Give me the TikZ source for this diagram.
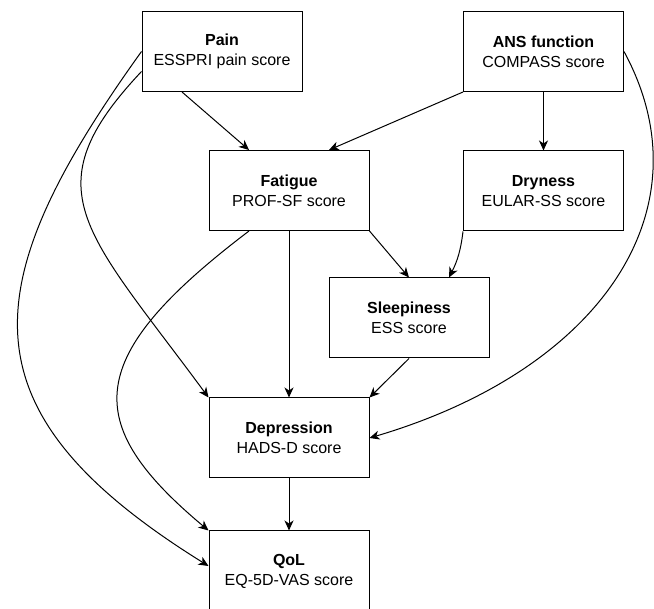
\documentclass[tikz,border=0pt]{standalone}
\usepackage{fontspec}
\setmainfont{Liberation Sans}
\usetikzlibrary{arrows.meta}

\begin{document}
\begin{tikzpicture}[x=1pt, y=-1pt,
  varbox/.style={draw, line width=1pt, minimum width=160pt, minimum height=80pt,
    inner sep=0pt, align=center, font=\fontsize{16}{20}\selectfont},
  link/.style={line width=1pt, -{Stealth[length=10pt, width=9pt, inset=3pt]}}]
  \useasboundingbox (0,0) rectangle (654,609);

  % Variables
  \node[varbox] (pain) at (222,51.5) {\textbf{Pain}\\ESSPRI pain score};
  \node[varbox] (ans) at (543.5,51.5) {\textbf{ANS function}\\COMPASS score};
  \node[varbox] (fatigue) at (289,190.5) {\textbf{Fatigue}\\PROF-SF score};
  \node[varbox] (dryness) at (543.5,191) {\textbf{Dryness}\\EULAR-SS score};
  \node[varbox] (sleep) at (409,318) {\textbf{Sleepiness}\\ESS score};
  \node[varbox] (depr) at (289,438) {\textbf{Depression}\\HADS-D score};
  \node[varbox] (qol) at (289,571) {\textbf{QoL}\\EQ-5D-VAS score};

  % Straight links
  \draw[link] ([xshift=-40pt]pain.south) -- ([xshift=-40pt]fatigue.north);
  \draw[link] (ans.south west) -- ([xshift=40pt]fatigue.north);
  \draw[link] (ans.south) -- (dryness.north);
  \draw[link] (fatigue.south east) -- (sleep.north);
  \draw[link] (dryness.south west) to[bend left=10] ([xshift=40pt]sleep.north);
  \draw[link] (fatigue.south) -- (depr.north);
  \draw[link] (sleep.south) -- (depr.north east);
  \draw[link] (depr.south) -- (qol.north);

  % Curved links
  \draw[link] (pain.west) .. controls (-26,285) and (-41,411) .. ([yshift=5pt]qol.west);
  \draw[link] ([yshift=-20pt]pain.west) .. controls (30,190) and (85,230) .. (depr.north west);
  \draw[link] ([xshift=-40pt]fatigue.south) .. controls (83,357) and (80,423) .. (qol.north west);
  \draw[link] (ans.east) .. controls (710,210) and (600,370) .. (depr.east);
\end{tikzpicture}
\end{document}
